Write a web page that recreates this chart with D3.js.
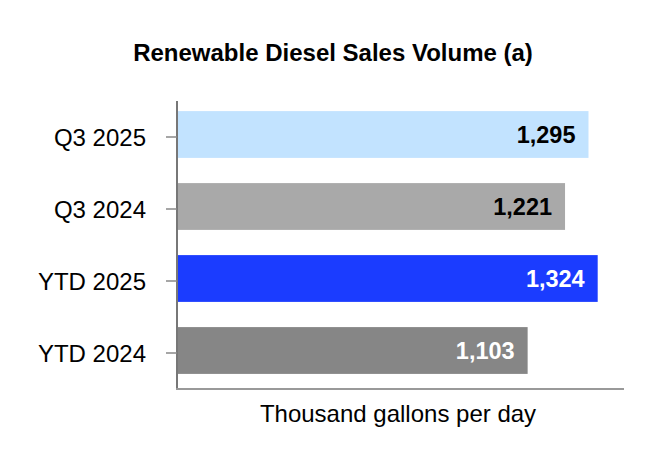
<!DOCTYPE html>
<html>
<head>
<meta charset="utf-8">
<script src="https://cdn.jsdelivr.net/npm/d3@7"></script>
<style>
  html, body { margin: 0; padding: 0; background: #fff; }
  svg { display: block; font-family: "Liberation Sans", Arial, sans-serif; }
</style>
</head>
<body>
<div id="chart"></div>
<script>
'use strict';

var categories = ['Q3 2025', 'Q3 2024', 'YTD 2025', 'YTD 2024'];
var volumes = [1295, 1221, 1324, 1103];
var barColors = ['#c2e3ff', '#a9a9a9', '#1b3cff', '#868686'];
var labelColors = ['#000', '#000', '#fff', '#fff'];

var width = 666, height = 468;

var svg = d3.select('#chart').append('svg')
  .attr('width', width)
  .attr('height', height);

var x = d3.scaleLinear().domain([0, 1407]).range([178, 624]);
var y = d3.scaleBand().domain(categories).range([98.5, 386.5])
  .paddingInner(0.35).paddingOuter(0.175);

// title
svg.append('text')
  .attr('x', 333)
  .attr('y', 61)
  .attr('text-anchor', 'middle')
  .style('font-size', '24px')
  .style('font-weight', 'bold')
  .text('Renewable Diesel Sales Volume (a)');

var rows = categories.map(function(c, i) {
  return {cat: c, v: volumes[i], fill: barColors[i], lab: labelColors[i]};
});

// bars
svg.selectAll('rect.bar').data(rows).enter()
  .append('rect')
  .attr('class', 'bar')
  .attr('x', x(0))
  .attr('y', function(d) { return y(d.cat); })
  .attr('width', function(d) { return x(d.v) - x(0); })
  .attr('height', y.bandwidth())
  .attr('fill', function(d) { return d.fill; });

// value labels inside bar ends
svg.selectAll('text.val').data(rows).enter()
  .append('text')
  .attr('class', 'val')
  .attr('x', function(d) { return x(d.v) - 13; })
  .attr('y', function(d) { return y(d.cat) + y.bandwidth() / 2; })
  .attr('dy', '0.36em')
  .attr('text-anchor', 'end')
  .style('font-size', '23.5px')
  .style('font-weight', 'bold')
  .attr('fill', function(d) { return d.lab; })
  .text(function(d) { return d3.format(',')(d.v); });

// axes
svg.append('line')
  .attr('x1', 177).attr('x2', 177)
  .attr('y1', 101).attr('y2', 390)
  .attr('stroke', '#777').attr('stroke-width', 2);

svg.append('line')
  .attr('x1', 176).attr('x2', 624)
  .attr('y1', 389).attr('y2', 389)
  .attr('stroke', '#999').attr('stroke-width', 2);

var ticks = svg.selectAll('g.tick').data(categories).enter()
  .append('g')
  .attr('class', 'tick')
  .attr('transform', function(d) { return 'translate(0,' + (y(d) + y.bandwidth() / 2 + 2.5) + ')'; });

ticks.append('line')
  .attr('x1', 166).attr('x2', 177)
  .attr('stroke', '#888').attr('stroke-width', 1.5);

ticks.append('text')
  .attr('x', 146)
  .attr('dy', '0.36em')
  .attr('text-anchor', 'end')
  .style('font-size', '24px')
  .text(function(d) { return d; });

// axis title
svg.append('text')
  .attr('x', 398)
  .attr('y', 422)
  .attr('text-anchor', 'middle')
  .style('font-size', '24px')
  .text('Thousand gallons per day');
</script>
</body>
</html>
